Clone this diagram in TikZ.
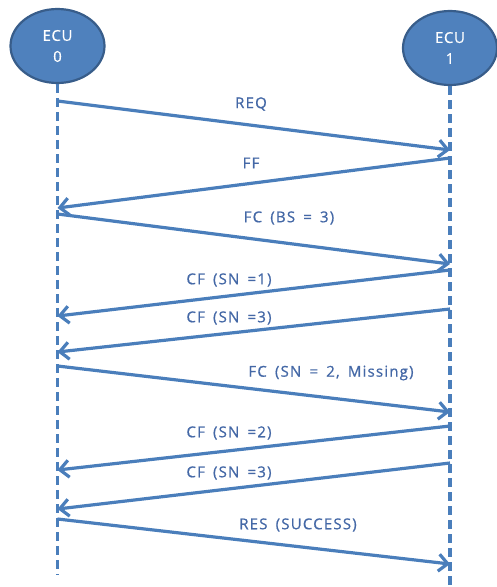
\documentclass[tikz,border=0pt]{standalone}
\usepackage{fontspec}
\setmainfont{Open Sans}
\newfontfamily\msgfont{Open Sans}[LetterSpace=8, WordSpace=1.6, FakeBold=0.8]
\newfontfamily\ecufont{Open Sans}[LetterSpace=4, FakeBold=0.4]
\usetikzlibrary{arrows.meta,shapes.geometric}
\definecolor{ecufill}{HTML}{4F81BD}
\definecolor{ecuedge}{HTML}{385D8A}
\definecolor{msgline}{HTML}{4A7EBB}
\definecolor{msgtext}{HTML}{4468A6}
\begin{document}
\begin{tikzpicture}[x=1pt,y=-1pt,
  ecu/.style={ellipse, draw=ecuedge, line width=2.2pt, fill=ecufill,
    minimum width=94pt, minimum height=74pt, inner sep=0pt,
    text=white, font=\ecufont\fontsize{15}{21}\selectfont, align=center},
  lifeline/.style={draw=msgline, line width=3.2pt, dash pattern=on 9pt off 5pt},
  msg/.style={draw=msgline, line width=3.2pt,
    -{Straight Barb[length=9pt,width=17pt,line width=3.2pt]}},
  lbl/.style={text=msgtext, font=\msgfont\fontsize{15}{18}\selectfont, inner sep=0pt}]
\useasboundingbox (0,0) rectangle (496,587);
% participants
\node[ecu] (e0) at (57.5,46) {ECU\\0};
\node[ecu] (e1) at (450,48) {ECU\\1};
% lifelines
\coordinate (l0end) at (57.5,575);
\coordinate (l1end) at (450,590);
\draw[lifeline] (e0.south) -- (l0end);
\draw[lifeline] (e1.south) -- (l1end);
% message end points on the lifelines
\foreach \n/\y in {a/101,b/150,c/158,d/208,e/214,f/264,g/270,h/316,i/309,j/352,
                   k/366,l/412,m/426,n/470,o/463,p/509,q/519,r/564}{
  \coordinate (L\n) at (57.5,\y);
  \coordinate (R\n) at (450,\y);
}
% messages
\draw[msg] (La) -- (Rb);
\draw[msg] (Rc) -- (Ld);
\draw[msg] (Le) -- (Rf);
\draw[msg] (Rg) -- (Lh);
\draw[msg] (Ri) -- (Lj);
\draw[msg] (Lk) -- (Rl);
\draw[msg] (Rm) -- (Ln);
\draw[msg] (Ro) -- (Lp);
\draw[msg] (Lq) -- (Rr);
% labels
\node[lbl] (t1) at (251,104) {REQ};
\node[lbl] (t2) at (251,163) {FF};
\node[lbl] (t3) at (289,218) {FC (BS = 3)};
\node[lbl] (t4) at (229,280) {CF (SN =1)};
\node[lbl] (t5) at (229,318) {CF (SN =3)};
\node[lbl] (t6) at (331,373) {FC (SN = 2, Missing)};
\node[lbl] (t7) at (229,433) {CF (SN =2)};
\node[lbl] (t8) at (229,473) {CF (SN =3)};
\node[lbl] (t9) at (298,525) {RES (SUCCESS)};
\end{tikzpicture}
\end{document}
